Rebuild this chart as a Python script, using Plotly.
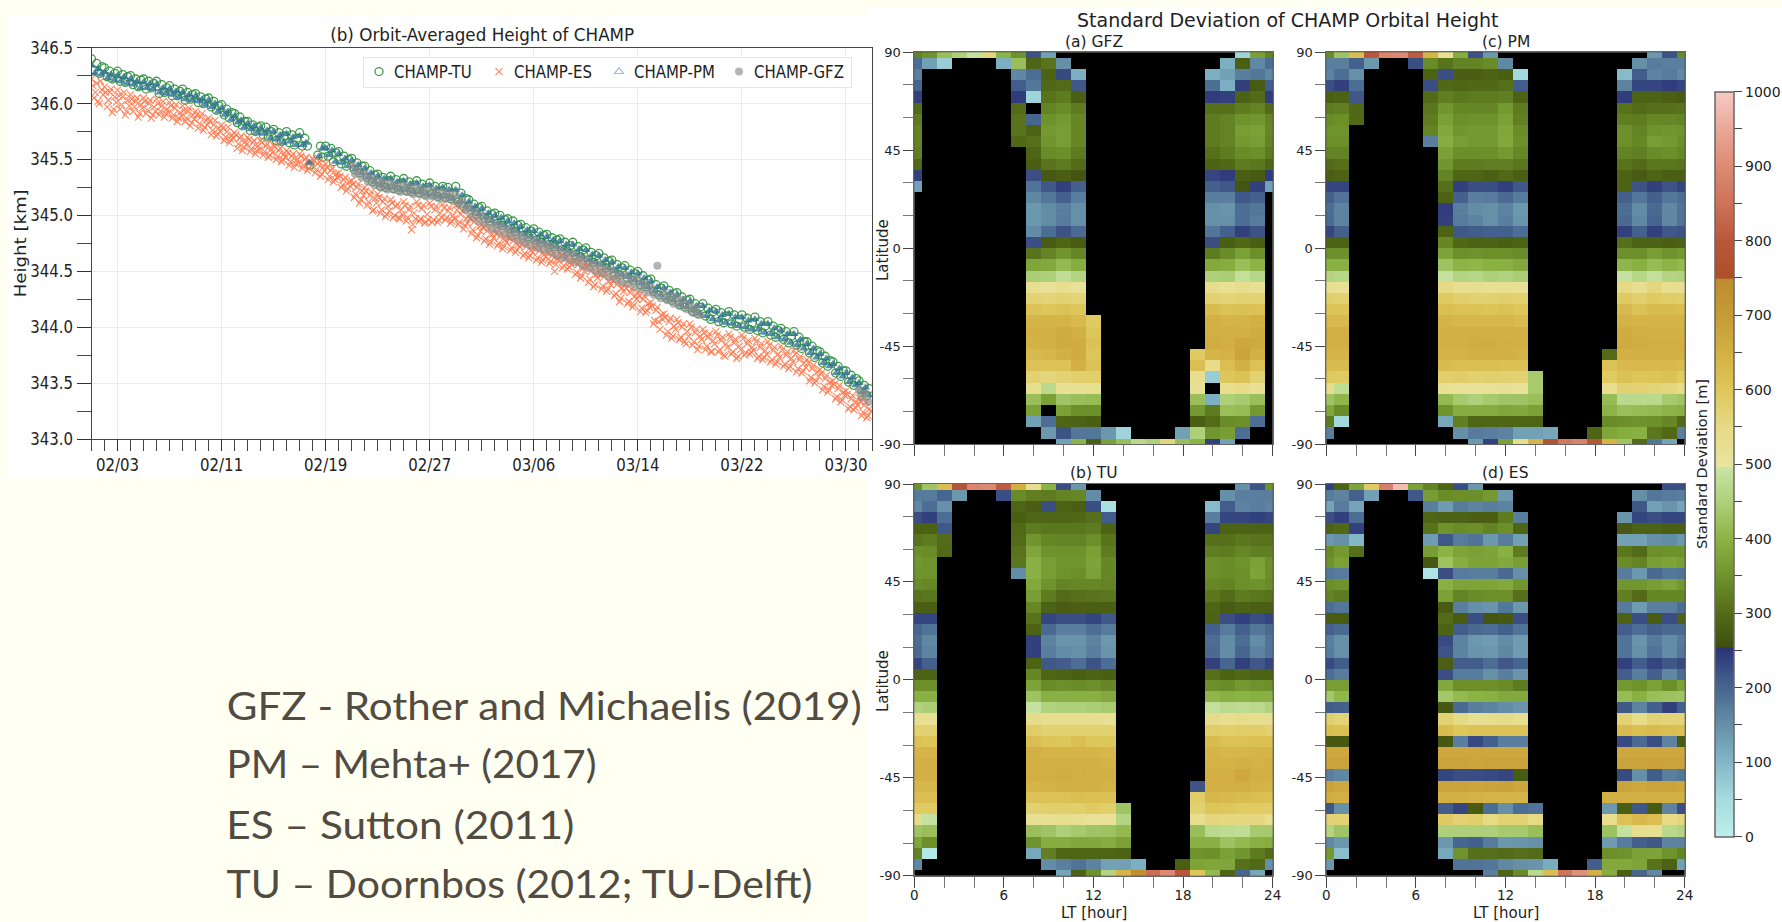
import pandas as pd
import plotly.graph_objects as go

W, H = 1782, 922
N = None

tu_heights = [
[346.40,346.30,346.36,346.27,346.33],[346.32,346.24,346.29,346.22,346.27],[346.29,346.20,346.26,346.19,346.24],
[346.25,346.17,346.22,346.15,346.21],[346.22,346.13,346.20,346.14,346.18],[346.20,346.09,346.17,346.10,346.14],
[346.16,346.07,346.13,346.07,346.11],[346.13,346.03,346.10,346.04,346.08],[346.09,346.01,346.06,346.00,346.04],
[346.05,345.97,346.02,345.94,345.98],[345.99,345.90,345.95,345.87,345.92],[345.91,345.83,345.88,345.80,345.84],
[345.84,345.76,345.81,345.75,345.79],[345.80,345.72,345.79,345.70,345.75],[345.77,345.67,345.74,345.66,345.71],
[345.75,345.65,345.72,345.63,345.69],[345.74,345.62,345.69,345.62,345.45],[N,N,345.54,345.62,345.52],
[345.62,345.53,345.60,345.48,345.56],[345.57,345.46,345.53,345.44,345.50],[345.51,345.41,345.47,345.38,345.44],
[345.44,345.34,345.40,345.30,345.36],[345.37,345.26,345.34,345.25,345.31],[345.35,345.24,345.32,345.23,345.29],
[345.33,345.22,345.30,345.21,345.27],[345.31,345.20,345.28,345.19,345.25],[345.29,345.19,345.26,345.17,345.22],
[345.26,345.16,345.25,345.15,345.20],[345.26,345.12,345.20,345.08,345.15],[345.14,345.05,345.10,345.01,345.07],
[345.08,344.98,345.04,344.95,345.01],[345.02,344.93,345.00,344.91,344.96],[344.97,344.88,344.95,344.86,344.91],
[344.92,344.82,344.89,344.81,344.86],[344.88,344.78,344.85,344.76,344.82],[344.83,344.74,344.80,344.72,344.78],
[344.79,344.69,344.76,344.68,344.73],[344.76,344.65,344.72,344.63,344.69],[344.71,344.60,344.67,344.58,344.64],
[344.66,344.55,344.62,344.53,344.59],[344.60,344.49,344.56,344.47,344.53],[344.55,344.44,344.51,344.42,344.48],
[344.50,344.38,344.46,344.36,344.42],[344.43,344.32,344.38,344.29,344.35],[344.37,344.26,344.33,344.24,344.30],
[344.31,344.20,344.27,344.18,344.24],[344.25,344.14,344.21,344.12,344.18],[344.21,344.10,344.17,344.07,344.14],
[344.16,344.05,344.13,344.04,344.10],[344.14,344.03,344.11,344.01,344.07],[344.11,344.00,344.08,343.98,344.04],
[344.09,343.97,344.05,343.95,344.01],[344.05,343.93,344.01,343.91,343.97],[343.99,343.89,343.96,343.86,343.92],
[343.96,343.84,343.91,343.81,343.87],[343.87,343.77,343.83,343.73,343.79],[343.78,343.68,343.74,343.65,343.70],
[343.69,343.59,343.65,343.56,343.61],[343.61,343.51,343.57,343.48,343.54],[343.52,343.42,343.48,343.39,343.45],
]

es_heights = [
[346.22,346.05,346.18,346.00,346.12],[346.15,345.97,346.10,345.92,346.06],[346.12,345.95,346.06,345.90,346.03],
[346.08,345.93,346.02,345.88,345.99],[346.05,345.91,346.00,345.87,345.97],[346.04,345.90,345.98,345.88,345.95],
[346.01,345.87,345.96,345.84,345.92],[345.98,345.84,345.93,345.80,345.90],[345.93,345.78,345.88,345.76,345.85],
[345.87,345.72,345.81,345.71,345.78],[345.81,345.67,345.75,345.65,345.72],[345.74,345.60,345.69,345.58,345.66],
[345.70,345.57,345.65,345.55,345.62],[345.67,345.54,345.62,345.52,345.59],[345.63,345.50,345.58,345.48,345.55],
[345.58,345.45,345.53,345.43,345.50],[345.55,345.42,345.50,345.40,345.47],[345.51,345.38,345.46,345.35,345.43],
[345.46,345.32,345.40,345.30,345.37],[345.38,345.25,345.32,345.22,345.30],[345.31,345.16,345.25,345.11,345.22],
[345.25,345.09,345.18,345.04,345.15],[345.19,345.02,345.12,344.99,345.08],[345.14,344.98,345.08,344.98,345.05],
[345.12,344.95,345.05,344.87,345.02],[345.12,344.95,345.06,344.93,345.01],[345.11,344.94,345.05,344.94,345.02],
[345.10,344.96,345.04,344.93,345.00],[345.09,344.92,345.01,344.88,344.97],[345.00,344.84,344.94,344.80,344.90],
[344.92,344.77,344.86,344.74,344.83],[344.87,344.73,344.81,344.70,344.78],[344.83,344.69,344.77,344.67,344.74],
[344.77,344.64,344.72,344.62,344.69],[344.73,344.60,344.68,344.58,344.65],[344.70,344.57,344.64,344.50,344.61],
[344.66,344.53,344.61,344.52,344.58],[344.62,344.47,344.56,344.44,344.53],[344.57,344.40,344.50,344.36,344.47],
[344.51,344.34,344.45,344.32,344.41],[344.45,344.28,344.38,344.23,344.35],[344.38,344.21,344.31,344.18,344.28],
[344.31,344.14,344.25,344.13,344.21],[344.22,344.03,344.15,344.05,344.11],[344.12,343.93,344.05,343.90,344.01],
[344.07,343.89,344.00,343.87,343.96],[344.03,343.84,343.95,343.80,343.92],[343.98,343.80,343.91,343.78,343.88],
[343.96,343.78,343.88,343.75,343.85],[343.94,343.76,343.86,343.72,343.83],[343.93,343.75,343.85,343.76,343.82],
[343.90,343.72,343.82,343.71,343.79],[343.87,343.69,343.79,343.67,343.76],[343.83,343.65,343.75,343.63,343.72],
[343.79,343.60,343.71,343.59,343.68],[343.71,343.52,343.63,343.50,343.60],[343.62,343.44,343.54,343.42,343.51],
[343.52,343.36,343.45,343.33,343.42],[343.43,343.27,343.36,343.26,343.33],[343.37,343.21,343.30,343.19,343.27],
]

es_more_heights = [
[346.16,346.10,346.02,346.20,346.08],[346.10,346.03,346.13,345.95,346.01],[346.07,345.99,346.10,345.93,345.98],
[346.04,345.97,346.05,345.91,345.96],[346.02,345.94,346.03,345.90,345.93],[346.00,345.93,346.02,345.91,345.92],
[345.98,345.90,345.99,345.87,345.89],[345.94,345.87,345.96,345.83,345.86],[345.90,345.82,345.91,345.79,345.81],
[345.84,345.76,345.85,345.73,345.75],[345.78,345.70,345.79,345.68,345.69],[345.72,345.64,345.71,345.61,345.63],
[345.68,345.60,345.67,345.58,345.59],[345.65,345.57,345.64,345.54,345.56],[345.61,345.53,345.60,345.50,345.52],
[345.56,345.48,345.55,345.46,345.47],[345.53,345.45,345.52,345.42,345.44],[345.49,345.41,345.48,345.37,345.40],
[345.43,345.35,345.42,345.32,345.34],[345.35,345.27,345.34,345.24,345.26],[345.28,345.19,345.28,345.14,345.18],
[345.22,345.12,345.21,345.05,345.11],[345.16,345.05,345.15,345.01,345.04],[345.11,345.00,345.10,344.97,345.01],
[345.09,344.98,345.08,344.92,344.97],[345.09,344.97,345.09,344.94,344.96],[345.08,344.96,345.08,344.96,344.98],
[345.07,344.98,345.07,344.95,344.97],[345.05,344.94,345.04,344.91,344.93],[344.97,344.87,344.97,344.82,344.86],
[344.89,344.79,344.89,344.76,344.80],[344.84,344.75,344.84,344.72,344.76],[344.80,344.71,344.80,344.69,344.72],
[344.75,344.66,344.74,344.64,344.67],[344.71,344.62,344.70,344.60,344.63],[344.67,344.59,344.66,344.56,344.60],
[344.64,344.55,344.63,344.54,344.56],[344.59,344.49,344.59,344.46,344.50],[344.54,344.43,344.53,344.38,344.44],
[344.48,344.37,344.48,344.34,344.38],[344.42,344.30,344.41,344.26,344.32],[344.35,344.23,344.34,344.20,344.25],
[344.28,344.17,344.28,344.15,344.18],[344.19,344.06,344.18,343.98,344.07],[344.09,343.96,344.08,343.92,343.98],
[344.04,343.91,344.03,343.85,343.92],[344.00,343.87,343.98,343.83,343.89],[343.95,343.83,343.94,343.78,343.85],
[343.93,343.80,343.91,343.74,343.82],[343.91,343.78,343.89,343.74,343.80],[343.90,343.77,343.88,343.78,343.79],
[343.87,343.74,343.85,343.73,343.76],[343.84,343.71,343.82,343.69,343.73],[343.80,343.67,343.78,343.65,343.69],
[343.76,343.63,343.74,343.61,343.64],[343.68,343.55,343.66,343.52,343.56],[343.59,343.47,343.57,343.44,343.48],
[343.49,343.38,343.48,343.35,343.39],[343.40,343.29,343.39,343.28,343.30],[343.34,343.24,343.33,343.21,343.25],
]

pm_heights = [
[346.34,346.27,346.31,346.26],[346.28,346.23,346.26,346.21],[346.25,346.20,346.24,346.18],[346.22,346.17,346.20,346.14],
[346.19,346.14,346.18,346.13],[346.17,346.10,346.14,346.09],[346.13,346.08,346.11,346.06],[346.10,346.04,346.08,346.03],
[346.07,346.02,346.04,345.99],[346.03,345.97,346.00,345.93],[345.96,345.90,345.93,345.86],[345.89,345.83,345.85,345.79],
[345.82,345.77,345.80,345.74],[345.78,345.73,345.76,345.69],[345.75,345.68,345.72,345.65],[345.73,345.66,345.70,345.63],
[345.71,345.63,345.65,345.47],[N,N,345.53,345.60],[345.60,345.54,345.58,345.48],[345.55,345.47,345.51,345.44],
[345.49,345.41,345.45,345.38],[345.42,345.34,345.38,345.30],[345.35,345.27,345.33,345.25],[345.33,345.25,345.30,345.23],
[345.31,345.23,345.28,345.21],[345.29,345.21,345.26,345.19],[345.27,345.19,345.24,345.17],[345.25,345.17,345.23,345.15],
[345.23,345.12,345.18,345.08],[345.12,345.05,345.08,345.01],[345.06,344.98,345.02,344.95],[345.00,344.93,344.98,344.91],
[344.95,344.88,344.93,344.86],[344.90,344.83,344.87,344.81],[344.86,344.78,344.83,344.76],[344.81,344.74,344.78,344.72],
[344.77,344.70,344.74,344.68],[344.74,344.65,344.70,344.63],[344.69,344.60,344.65,344.58],[344.64,344.56,344.60,344.53],
[344.58,344.50,344.54,344.47],[344.53,344.45,344.49,344.42],[344.48,344.39,344.44,344.36],[344.41,344.32,344.36,344.29],
[344.35,344.26,344.31,344.24],[344.29,344.20,344.25,344.18],[344.23,344.15,344.19,344.12],[344.19,344.10,344.15,344.07],
[344.14,344.06,344.11,344.04],[344.12,344.03,344.09,344.01],[344.09,344.00,344.06,343.98],[344.07,343.98,344.03,343.95],
[344.03,343.94,343.99,343.91],[343.97,343.89,343.94,343.86],[343.94,343.84,343.89,343.81],[343.85,343.77,343.81,343.73],
[343.76,343.68,343.72,343.65],[343.67,343.59,343.63,343.56],[343.59,343.51,343.55,343.48],[343.50,343.42,343.46,343.39],
]

gfz_first_day = 20
gfz_heights = [
[345.45,345.37,345.41,345.34],[345.38,345.30,345.34,345.27],[345.31,345.25,345.29,345.23],[345.29,345.23,345.27,345.21],
[345.27,345.21,345.25,345.19],[345.25,345.19,345.23,345.17],[345.23,345.17,345.21,345.15],[345.21,345.15,345.19,345.13],
[345.19,345.10,345.13,345.05],[345.08,344.99,345.03,344.95],[345.00,344.92,344.96,344.88],[344.93,344.86,344.90,344.83],
[344.88,344.81,344.85,344.78],[344.82,344.75,344.79,344.73],[344.78,344.71,344.75,344.69],[344.74,344.67,344.71,344.64],
[344.70,344.62,344.66,344.60],[344.66,344.58,344.62,344.55],[344.61,344.53,344.57,344.50],[344.56,344.48,344.52,344.45],
[344.51,344.43,344.47,344.40],[344.47,344.39,344.43,344.36],[344.43,344.34,344.39,344.31],[344.36,344.29,344.55,344.26],
[344.31,344.24,344.28,344.21],[344.27,344.19,344.24,344.16],[344.20,344.13,344.17,344.11],
]
gfz_end_day = 59
gfz_end_heights = [343.44,343.37,343.41,343.33]

reference_date = "2004-02-01"
x_range = ["2004-02-01", "2004-04-01"]
height_range = [343.0, 346.5]
date_tick_start = "2004-02-03"

lt_hours = list(range(25))
latitudes = [90 - 180 * r / 35 for r in range(36)]
lat_ticks = [-90, -45, 0, 45, 90]
lat_labels = ["-90", "-45", "0", "45", "90"]

# rows run from 90 N to 90 S; each row holds runs: (first LT hour, std values...)
gfz_rows = [
[(0,330,350,420,450,490,560,400,350,220,130),(22,60,370,330)],
[(0,190,130,70),(6,110,420,290,310,150),(21,110,280,160,190)],
[(0,170),(7,160,190,285,230,110),(20,110,130,170,180,160)],
[(0,200),(7,210,180,295,300,215),(20,190,110,240,275,210)],
[(0,240),(7,245,60,310,320,280),(20,245,240,285,300,245)],
[(0,300),(7,300),(9,330,340,320),(20,305,305,320,330,300)],
[(0,320),(7,310,200,350,360,335),(20,320,330,350,355,330)],
[(0,330),(7,310,285,360,365,335),(20,320,330,365,370,335)],
[(0,330),(7,295,305,355,365,335),(20,320,330,360,365,330)],
[(0,325),(8,290,340,345,320),(20,305,320,340,345,320)],
[(0,295),(8,280,310,320,300),(20,285,295,320,315,290)],
[(0,240),(8,225,270,280,265),(20,235,245,280,275,245)],
[(0,130),(8,185,215,240,205),(20,205,215,265,240,130)],
[(8,160,180,205,170),(20,170,170,215,205)],
[(8,140,155,170,150),(20,150,145,190,180)],
[(8,140,155,175,150),(20,150,150,190,175)],
[(8,155,190,220,195),(20,180,205,240,220)],
[(8,225,275,290,275),(20,225,280,295,280)],
[(8,310,330,355,335),(20,320,340,370,345)],
[(8,380,385,410,390),(20,385,390,420,400)],
[(8,445,450,480,460),(20,450,445,485,465)],
[(8,530,515,530,515),(20,540,520,535,525)],
[(8,570,565,575,565),(20,575,565,570,570)],
[(8,610,600,610,600),(20,625,610,615,610)],
[(8,640,640,640,630,590),(20,650,640,640,650)],
[(8,650,650,660,650,600),(20,655,655,650,660)],
[(8,645,650,665,660,610),(20,660,655,670,665)],
[(8,630,635,650,660,600),(19,590,640,645,680,650)],
[(8,610,610,610,650,610),(19,620,540,620,650,610)],
[(8,575,560,570,580,580),(19,530,70,600,610,570)],
[(8,530,470,520,520,525),(19,520),(21,530,540,520)],
[(8,420,370,430,420,415),(19,420,110,450,440,420)],
[(8,370),(10,370,345,345),(19,360,320,420,415,360)],
[(8,130,190,290,285,280),(19,280,300,340,345,190)],
[(9,140,220,180,180,140,60),(18,130,450,355,365,190)],
[(10,130,400,280,370,420,470,450,560,420,400,240,130)],
]

pm_rows = [
[(0,340,430,620,800,890,900,810,640,520,390,220,140),(22,140,220,340)],
[(0,170,170,205,140),(6,225,340,310,330,330,340,160),(21,150,175,170,170)],
[(0,165,190,150),(7,285,225,280,280,285,280,55),(20,95,210,165,175,160)],
[(0,225,240,190),(7,225,295,290,295,295,305,210),(20,165,235,235,245,235)],
[(0,280,285,215),(7,300,325,315,320,320,325,285),(20,245,285,285,280,275)],
[(0,320,325,295),(7,315,355,335,335,335,360,320),(20,310,300,305,305,310)],
[(0,340,345,295),(7,320,370,345,350,350,370,325),(20,325,320,335,335,330)],
[(0,350,350),(7,330,385,355,360,360,380,340),(20,345,330,350,355,350)],
[(0,345,345),(7,170,390,365,360,360,385,345),(20,345,335,365,360,345)],
[(0,330,330),(8,370,345,345,345,360,335),(20,330,325,340,345,335)],
[(0,300,305),(8,355,320,320,325,325,315),(20,310,300,315,315,310)],
[(0,280,285),(8,330,290,290,280,295,280),(20,285,275,290,280,280)],
[(0,235,235),(8,305,240,225,225,240,215),(20,285,220,240,220,235)],
[(0,205,185),(8,285,205,170,175,195,175),(20,205,180,205,180,190)],
[(0,190,165),(8,245,170,155,150,165,140),(20,190,155,195,160,185)],
[(0,195,165),(8,240,175,165,150,170,145),(20,195,160,200,160,185)],
[(0,235,205),(8,285,215,210,205,205,190),(20,240,205,240,215,220)],
[(0,285,285),(8,335,295,285,285,280,285),(20,305,285,285,280,285)],
[(0,345,345),(8,375,345,350,345,345,340),(20,345,345,365,350,360)],
[(0,395,395),(8,425,400,405,395,395,385),(20,405,395,415,400,410)],
[(0,460,465),(8,490,460,465,450,455,445),(20,490,465,485,460,455)],
[(0,530,525),(8,550,530,530,525,525,520),(20,550,530,560,530,530)],
[(0,580,575),(8,590,580,575,575,580,575),(20,590,580,590,585,580)],
[(0,605,605),(8,620,610,610,605,610,600),(20,630,610,625,625,620)],
[(0,630,630),(8,640,635,635,635,635,625),(20,645,640,640,640,640)],
[(0,650,650),(8,650,650,655,650,650,650),(20,660,655,650,650,650)],
[(0,650,650),(8,650,650,660,660,655,650),(20,665,660,655,655,655)],
[(0,640,640),(8,645,645,650,655,650,645),(19,300,650,650,650,650,650)],
[(0,625,625),(8,625,620,620,620,615,615),(19,610,630,630,630,630,625)],
[(0,595,590),(8,580,585,575,580,575,570,440),(19,590,610,600,605,610,590)],
[(0,540,480),(8,520,510,510,515,520,510,440),(19,530,575,570,565,560,540)],
[(0,430,405),(8,410,440,450,440,430,430,420),(19,415,470,470,470,440,430)],
[(0,380,340),(8,350,390,390,390,380,385,370),(19,400,420,415,410,400,395)],
[(0,320,55),(8,120,325,290,290,290,290,290),(19,340,345,350,345,335,300)],
[(0,170),(9,150,175,170,165,130,130,120),(18,290,380,390,395,315,295,170)],
[(10,140,240,370,530,640,775,860,885,790,640,430,300,180,125)],
]

tu_rows = [
[(0,350,430,620,790,890,900,810,650,530,400,225,140),(22,150,220,350)],
[(0,175,175,200,140),(6,225,340,325,320,330,335,155),(21,150,170,170,170)],
[(0,160,190,150),(7,290,280,225,285,280,225,40),(20,95,210,165,170,165)],
[(0,225,240,190),(7,280,290,290,290,295,305,210),(20,170,235,235,240,235)],
[(0,285,285,215),(7,295,320,315,315,315,320,285),(20,235,285,285,285,285)],
[(0,310,320,300),(7,300,355,335,330,330,345,310),(20,305,305,315,310,310)],
[(0,345,340,295),(7,310,380,350,350,350,370,320),(20,325,320,335,325,325)],
[(0,355,350),(7,315,395,365,355,355,375,335),(20,345,340,350,370,345)],
[(0,350,350),(7,155,395,365,350,345,370,335),(20,345,340,345,375,345)],
[(0,340,335),(8,385,350,330,335,335,330),(20,335,330,345,350,340)],
[(0,310,315),(8,365,320,300,305,310,315),(20,315,300,320,315,310)],
[(0,280,280),(8,335,285,275,280,280,280),(20,290,275,285,280,280)],
[(0,235,235),(8,310,235,225,225,235,215),(20,285,225,240,225,235)],
[(0,200,185),(8,285,195,170,170,190,175),(20,205,175,205,180,195)],
[(0,190,160),(8,240,165,145,145,165,140),(20,190,155,190,155,185)],
[(0,195,165),(8,240,170,155,150,170,145),(20,195,155,200,165,185)],
[(0,235,205),(8,285,215,210,190,220,190),(20,240,200,240,215,235)],
[(0,285,285),(8,335,290,285,280,285,280),(20,305,285,295,285,285)],
[(0,345,345),(8,375,340,345,340,345,335),(20,345,340,360,350,345)],
[(0,395,395),(8,425,395,395,395,395,385),(20,405,395,400,395,395)],
[(0,455,445),(8,490,455,450,450,445,440),(20,485,470,475,470,455)],
[(0,530,525),(8,545,530,530,530,530,525),(20,545,530,540,530,530)],
[(0,575,575),(8,585,575,575,575,575,575),(20,585,580,585,585,575)],
[(0,610,605),(8,620,605,600,620,600,600),(20,625,610,610,615,615)],
[(0,640,640),(8,650,640,640,640,640,635),(20,640,635,635,640,640)],
[(0,650,650),(8,655,655,650,650,650,645),(20,645,645,650,645,650)],
[(0,650,650),(8,655,655,660,655,650,650),(20,655,655,670,655,650)],
[(0,635,635),(8,640,645,650,650,650,645),(19,220,655,650,655,645,640)],
[(0,620,620),(8,610,610,610,620,615,615),(19,585,635,630,625,620,615)],
[(0,590,590),(8,575,580,580,580,590,580,430),(19,575,605,600,590,590,585)],
[(0,540,490),(8,520,525,530,525,515,515,460),(19,530,560,555,555,555,530)],
[(0,430,420),(8,420,430,450,440,430,425,410),(19,420,470,475,480,440,440)],
[(0,380,345),(8,350,390,390,385,385,390,370),(19,395,395,425,410,395,390)],
[(0,330,20),(8,120,325,290,290,290,290,285),(19,350,345,370,355,320,300)],
[(0,160),(9,155,170,185,165,130,130,110),(18,280,375,380,380,305,295,150)],
[(10,125,285,350,460,640,740,840,900,800,600,410,290,200,120)],
]

es_rows = [
[(0,240,285,380,590,880,980,370,330,290,225,140),(23,225,225)],
[(0,175,165,205,130),(6,215,365,340,345,345,360,140),(21,150,180,175,170)],
[(0,125,175,125),(7,170,135,175,165,170,165),(21,215,130,145,125)],
[(0,225,240,190),(7,290,285,285,280,280,320,170),(20,145,235,225,235,235)],
[(0,285,295,240),(7,310,350,340,345,330,345,290),(20,270,285,285,280,280)],
[(0,140,150,100),(7,135,215,175,185,140,175,130),(20,130,130,150,155,140)],
[(0,340,360,305),(7,365,400,375,370,375,395,320),(20,315,300,345,350,350)],
[(0,350,370),(7,270,425,390,375,375,385,365),(20,340,330,365,375,365)],
[(0,180,175),(7,30,225,175,170,170,195,150),(20,175,140,195,180,185)],
[(0,345,350),(8,395,375,375,375,385,355),(20,355,355,365,375,360)],
[(0,330,320),(8,370,330,340,345,345,305),(20,325,300,335,335,335)],
[(0,190,180),(8,275,170,150,145,180,140),(20,175,135,170,170,190)],
[(0,275,275),(8,300,275,225,265,270,225),(20,285,225,275,225,285)],
[(0,205,195),(8,285,210,195,190,205,185),(20,210,190,205,195,195)],
[(0,170,150),(8,230,165,140,135,155,135),(20,185,145,175,155,175)],
[(0,175,150),(8,220,165,145,140,160,135),(20,185,150,185,155,180)],
[(0,230,210),(8,280,210,210,190,215,200),(20,240,210,235,215,230)],
[(0,190,175),(8,225,175,175,150,170,145),(20,210,170,205,160,190)],
[(0,365,365),(8,385,345,345,345,340,320),(20,360,350,370,345,375)],
[(0,435,405),(8,435,410,400,395,385,385),(20,415,395,420,425,430)],
[(0,210,205),(8,270,195,170,165,155,145),(20,215,165,205,240,205)],
[(0,580,565),(8,570,550,525,535,545,530),(20,570,540,570,565,565)],
[(0,620,615),(8,625,600,610,610,610,610),(20,625,620,625,620,615)],
[(0,270,270),(8,270,170,230,205,170,170),(20,230,195,225,165,275)],
[(0,670,670),(8,670,670,670,670,670,670),(20,670,670,670,670,670)],
[(0,680,680),(8,680,680,675,680,680,680),(20,680,680,685,680,680)],
[(0,170,160),(8,235,225,225,230,235,275),(20,230,150,210,170,180)],
[(0,680,670),(8,680,680,675,680,685,675),(20,680,670,680,680,675)],
[(0,660,655),(8,650,650,645,640,640,640),(19,650,650,650,650,650,650)],
[(0,215,150),(8,210,235,275,190,150,190,185),(19,140,280,215,275,165,225)],
[(0,570,570),(8,590,570,580,550,570,570,550),(19,530,610,630,620,550,560)],
[(0,460,430),(8,450,450,450,450,440,440,420),(19,425,490,530,530,470,460)],
[(0,160,140),(8,140,200,205,175,140,145,150),(19,135,175,205,215,165,165)],
[(0,360,90),(8,120,350,305,305,300,305,300),(19,345,350,370,375,350,330)],
[(0,140),(9,185,185,180,160,150,145,115),(18,210,385,385,375,310,285,130)],
[(11,170,290,340,470,620,850,910,650,390,280,200,160)],
]

cbar_ticks = [0,50,100,150,200,250,300,350,400,450,500,550,600,650,700,750,800,850,900,950,1000]
cbar_labels = [str(v) if v % 100 == 0 else "" for v in cbar_ticks]

color_stops = [
(0,"#bdf0ec"),(50,"#a6dcde"),(100,"#83b7c8"),(150,"#6690a8"),(200,"#47668f"),(254,"#2b3377"),
(255,"#3f4f0e"),(300,"#536b18"),(350,"#6f932c"),(400,"#8cb345"),(450,"#aed07a"),(496,"#c9e4a4"),
(497,"#e9e4a0"),(550,"#e6da85"),(600,"#dec75a"),(650,"#d3b044"),(700,"#c69b36"),(749,"#bd8c2f"),
(750,"#ae4f2a"),(800,"#b8573a"),(850,"#ce7258"),(900,"#dd8a74"),(950,"#e9a898"),(1000,"#f8c9c5"),
]

source_notes = [
"GFZ - Rother and Michaelis (2019)",
"PM – Mehta+ (2017)",
"ES – Sutton (2011)",
"TU – Doornbos (2012; TU-Delft)",
]


def grid(rows):
    out = []
    for runs in rows:
        row = [N] * len(lt_hours)
        for run in runs:
            for k, v in enumerate(run[1:]):
                row[run[0] + k] = v
        out.append(row)
    assert len(out) == len(latitudes)
    return out


def expand(per_day, first_day=0, phase=0.0):
    base = pd.Timestamp(reference_date)
    xs, ys = [], []
    for d, vals in enumerate(per_day):
        for k, v in enumerate(vals):
            xs.append(base + pd.Timedelta(days=first_day + d + (k + phase) / len(vals)))
            ys.append(v)
    return xs, ys


def fx(px):
    return px / W


def fy(py):
    return 1 - py / H


DEJAVU = "DejaVu Sans"
INK = "#222222"

fig = go.Figure()

tx, ty = expand(tu_heights)
ex, ey = expand(es_heights)
e2x, e2y = expand(es_more_heights, phase=0.5)
px_, py_ = expand(pm_heights)
gx, gy = expand(gfz_heights, gfz_first_day)
g2x, g2y = expand([gfz_end_heights], gfz_end_day)

fig.add_trace(go.Scatter(x=tx, y=ty, mode="markers", name="CHAMP-TU",
    marker=dict(symbol="circle-open", size=8, color="rgba(45,145,60,0.9)", line=dict(width=1.3))))
fig.add_trace(go.Scatter(x=ex + e2x, y=ey + e2y, mode="markers", name="CHAMP-ES",
    marker=dict(symbol="x-thin-open", size=7, color="rgba(255,115,70,0.85)",
                line=dict(width=1.1, color="rgba(255,115,70,0.85)"))))
fig.add_trace(go.Scatter(x=px_, y=py_, mode="markers", showlegend=False,
    marker=dict(symbol="triangle-up", size=8, color="rgba(50,115,150,0.8)")))
fig.add_trace(go.Scatter(x=[N], y=[N], mode="markers", name="CHAMP-PM",
    marker=dict(symbol="triangle-up-open", size=8, color="#9dbbdc", line=dict(width=1.1))))
fig.add_trace(go.Scatter(x=gx + g2x, y=gy + g2y, mode="markers", name="CHAMP-GFZ",
    marker=dict(symbol="circle", size=8, color="rgba(140,140,140,0.65)")))

panels = [("x2", "y2", gfz_rows), ("x3", "y3", tu_rows), ("x4", "y4", pm_rows), ("x5", "y5", es_rows)]
for xa, ya, rows in panels:
    fig.add_trace(go.Heatmap(x=lt_hours, y=latitudes, z=grid(rows), xaxis=xa, yaxis=ya,
                             coloraxis="coloraxis", hoverongaps=False))

boxes = {
    "2": (914.3, 1272.7, 52.3, 444.0),
    "3": (914.3, 1272.7, 484.0, 875.7),
    "4": (1326.3, 1684.7, 52.3, 444.0),
    "5": (1326.3, 1684.7, 484.0, 875.7),
}

shapes = [
    dict(type="rect", xref="paper", yref="paper", x0=fx(8), x1=fx(868), y0=fy(15), y1=fy(477),
         fillcolor="white", line_width=0, layer="below"),
    dict(type="rect", xref="paper", yref="paper", x0=fx(867), x1=1, y0=fy(7), y1=0,
         fillcolor="white", line_width=0, layer="below"),
]
layout_axes = {}
for key, (l, r, t, b) in boxes.items():
    shapes.append(dict(type="rect", xref="paper", yref="paper", x0=fx(l), x1=fx(r), y0=fy(t), y1=fy(b),
                       fillcolor="black", line_width=0, layer="below"))
    bottom = key in ("3", "5")
    layout_axes["xaxis" + key] = dict(
        domain=[fx(l), fx(r)], anchor="y" + key, range=[0, 24], tick0=0, dtick=6,
        ticks="outside", ticklen=11, tickcolor="#444", showgrid=False, zeroline=False,
        showticklabels=bottom, tickfont=dict(family=DEJAVU, size=13.5, color=INK), ticklabelstandoff=-4,
        showline=True, linecolor="#666", mirror=True,
        minor=dict(tick0=0, dtick=2, ticks="outside", ticklen=11, tickcolor="#777"),
    )
    layout_axes["yaxis" + key] = dict(
        domain=[fy(b), fy(t)], anchor="x" + key, range=[-90, 90],
        tickmode="array", tickvals=lat_ticks, ticktext=lat_labels,
        ticks="outside", ticklen=10, tickcolor="#444", showgrid=False, zeroline=False,
        tickfont=dict(family=DEJAVU, size=13, color=INK),
        showline=True, linecolor="#666", mirror=True,
        minor=dict(tick0=-90, dtick=15, ticks="outside", ticklen=10, tickcolor="#777"),
    )

annotations = [
    dict(text="(b) Orbit-Averaged Height of CHAMP", x=fx(482), y=fy(35), font=dict(family=DEJAVU, size=17, color=INK)),
    dict(text="Height [km]", x=fx(21), y=fy(244), textangle=-90, font=dict(family=DEJAVU, size=15, color=INK)),
    dict(text="Standard Deviation of CHAMP Orbital Height", x=fx(1288), y=fy(20), font=dict(family=DEJAVU, size=19, color=INK)),
    dict(text="(a) GFZ", x=fx(1093.5), y=fy(42), font=dict(family=DEJAVU, size=15.5, color=INK)),
    dict(text="(c) PM", x=fx(1505.5), y=fy(42), font=dict(family=DEJAVU, size=15.5, color=INK)),
    dict(text="(b) TU", x=fx(1093.5), y=fy(473), font=dict(family=DEJAVU, size=15.5, color=INK)),
    dict(text="(d) ES", x=fx(1505.5), y=fy(473), font=dict(family=DEJAVU, size=15.5, color=INK)),
    dict(text="Latitude", x=fx(883), y=fy(250), textangle=-90, font=dict(family=DEJAVU, size=15, color=INK)),
    dict(text="Latitude", x=fx(883), y=fy(681), textangle=-90, font=dict(family=DEJAVU, size=15, color=INK)),
    dict(text="LT [hour]", x=fx(1093.5), y=fy(913), font=dict(family=DEJAVU, size=15, color=INK)),
    dict(text="LT [hour]", x=fx(1505.5), y=fy(913), font=dict(family=DEJAVU, size=15, color=INK)),
    dict(text="Standard Deviation [m]", x=fx(1702), y=fy(464), textangle=-90, font=dict(family=DEJAVU, size=14.5, color=INK)),
]
for note, cx, py in zip(source_notes, [543.5, 411, 400, 519], [705, 763, 824, 883]):
    annotations.append(dict(text=note, x=fx(cx), y=fy(py),
                            font=dict(family="Lato", size=39, color="#514b42")))
for a in annotations:
    a.update(xref="paper", yref="paper", showarrow=False)
    a.setdefault("xanchor", "center")
    a.setdefault("yanchor", "middle")

fig.update_layout(
    width=W, height=H, margin=dict(l=0, r=0, t=0, b=0, autoexpand=False), autosize=False,
    paper_bgcolor="#fffff2", plot_bgcolor="rgba(0,0,0,0)",
    shapes=shapes, annotations=annotations,
    font=dict(family=DEJAVU, color=INK),
    xaxis=dict(
        domain=[fx(91.5), fx(872)], anchor="y", type="date", range=x_range,
        tick0=date_tick_start, dtick=8 * 86400000, tickformat="%m/%d",
        ticks="outside", ticklen=11, tickcolor="#333", tickfont=dict(family=DEJAVU, size=17, color=INK),
        showgrid=True, gridcolor="#ebebeb", showline=True, linecolor="#444", zeroline=False, mirror=True,
        minor=dict(tick0=date_tick_start, dtick=86400000, ticks="outside", ticklen=11, tickcolor="#444", showgrid=False),
    ),
    yaxis=dict(
        domain=[fy(439), fy(47.7)], anchor="x", range=height_range, tick0=343, dtick=0.5,
        tickformat=".1f", ticks="outside", ticklen=14, tickcolor="#333",
        tickfont=dict(family=DEJAVU, size=17, color=INK),
        showgrid=True, gridcolor="#ebebeb", showline=True, linecolor="#444", zeroline=False, mirror=True,
        minor=dict(tick0=343, dtick=0.25, ticks="outside", ticklen=14, tickcolor="#444", showgrid=False),
    ),
    legend=dict(
        orientation="h", x=fx(363), y=fy(57), xanchor="left", yanchor="top",
        bgcolor="rgba(255,255,255,0.85)", bordercolor="#e6e6e6", borderwidth=1,
        font=dict(family=DEJAVU, size=17, color=INK), entrywidth=75, entrywidthmode="pixels",
        itemsizing="trace", tracegroupgap=0,
    ),
    coloraxis=dict(
        cmin=0, cmax=1000,
        colorscale=[[v / 1000, c] for v, c in color_stops],
        colorbar=dict(
            x=fx(1715), xanchor="left", xpad=0, ypad=0, y=fy(836.7), yanchor="bottom",
            len=(836.7 - 92) / H, lenmode="fraction", thickness=19, thicknessmode="pixels",
            tickmode="array", tickvals=cbar_ticks, ticktext=cbar_labels, ticks="outside", ticklen=8,
            tickcolor="#444", tickfont=dict(family=DEJAVU, size=14, color=INK),
            outlinecolor="#666", outlinewidth=1.5,
        ),
    ),
    **layout_axes,
)

post = """
document.body.style.margin='0';document.body.style.overflow='hidden';
function fit(t,w){t.setAttribute('textLength',w);t.setAttribute('lengthAdjust','spacingAndGlyphs');}
document.querySelectorAll('.subplot.xy .xtick text, .subplot.xy .ytick text, .legendtext').forEach(function(t){
  fit(t,t.getComputedTextLength()*0.88);
});
var widths={'(b) Orbit-Averaged Height of CHAMP':304,'Height [km]':108,
 'GFZ - Rother and Michaelis (2019)':635,'PM – Mehta+ (2017)':370,'ES – Sutton (2011)':348,
 'TU – Doornbos (2012; TU-Delft)':586};
document.querySelectorAll('text.annotation-text').forEach(function(t){
  var w=widths[t.textContent]; if(w){fit(t,w);}
});
document.querySelectorAll('.legend .traces').forEach(function(g){
  var m=/translate\\(([-\\d.]+),\\s*([-\\d.]+)\\)/.exec(g.getAttribute('transform')||'');
  if(m){g.setAttribute('transform','translate('+(parseFloat(m[1])-5)+','+(parseFloat(m[2])-4)+')');}
  var t=g.querySelector('.legendtext');
  t.setAttribute('x',parseFloat(t.getAttribute('x'))-5);
});
document.querySelectorAll('.legend .bg').forEach(function(r){r.setAttribute('width',488);r.setAttribute('height',30);});
"""
fig.write_html("out.html", post_script=post, config={"displayModeBar": False})
